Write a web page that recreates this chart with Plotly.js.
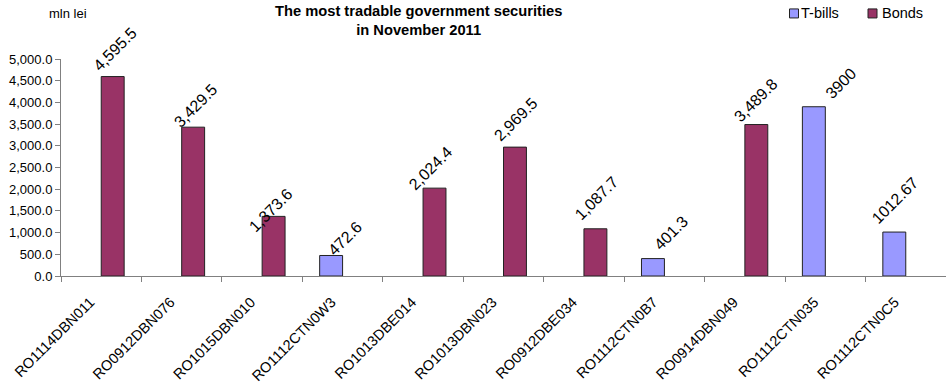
<!DOCTYPE html>
<html>
<head>
<meta charset="utf-8">
<script src="https://cdn.plot.ly/plotly-3.0.1.min.js"></script>
<style>html,body{margin:0;padding:0;background:#fff}#chart{width:946px;height:387px}</style>
</head>
<body>
<div id="chart"></div>
<script>
var categories = ["RO1114DBN011","RO0912DBN076","RO1015DBN010","RO1112CTN0W3","RO1013DBE014","RO1013DBN023","RO0912DBE034","RO1112CTN0B7","RO0914DBN049","RO1112CTN035","RO1112CTN0C5"];
var tbillValues = [null,null,null,472.6,null,null,null,401.3,null,3900,1012.67];
var tbillLabels = ["","","","472.6","","","","401.3","","3900","1012.67"];
var bondValues = [4595.5,3429.5,1373.6,null,2024.4,2969.5,1087.7,null,3489.8,null,null];
var bondLabels = ["4,595.5","3,429.5","1,373.6","","2,024.4","2,969.5","1,087.7","","3,489.8","",""];
var yTicks = [0,500,1000,1500,2000,2500,3000,3500,4000,4500,5000];

// label nudges (pixels) as placed in the original chart: [dx from bar centre, rise of label centre above bar top]
var tbillLabelNudge = [null,null,null,[14,17],null,null,null,[18.5,25.8],null,[26.8,23.4],[0.6,31.7]];
var bondLabelNudge = [[1.7,27.5],[2.7,21.5],[-3.2,6],null,[-4.2,19.6],[0.6,27.9],[0.7,30.2],null,[-1,24.3],null,null];

var font = "Liberation Sans, Arial, sans-serif";
var plotW = 885, barGap = 0.43;
var catW = plotW / categories.length;
var barW = catW * (1 - barGap) / 2;

var traces = [
  {type:"bar", name:"T-bills", x:categories, y:tbillValues,
   marker:{color:"#9999FF", line:{color:"#222",width:1}}, hoverinfo:"none", showlegend:false},
  {type:"bar", name:"Bonds", x:categories, y:bondValues,
   marker:{color:"#993366", line:{color:"#222",width:1}}, hoverinfo:"none", showlegend:false}
];

var annotations = [];
function addLabels(values, labels, nudge, side) {
  for (var i = 0; i < categories.length; i++) {
    if (values[i] === null) continue;
    var offPx = side * barW / 2 + nudge[i][0];
    annotations.push({text:labels[i], xref:"x", yref:"y", x:i + offPx / catW, y:values[i],
      xanchor:"center", yanchor:"middle", textangle:-45, showarrow:false,
      yshift:nudge[i][1], font:{family:font,size:16,color:"#000"}});
  }
}
addLabels(tbillValues, tbillLabels, tbillLabelNudge, -1);
addLabels(bondValues, bondLabels, bondLabelNudge, 1);

function px(x){ return (x-61)/885; }
function py(y){ return (275.7-y)/216.7; }

annotations.push({text:"mln lei", xref:"paper", yref:"paper", x:px(47), y:py(14),
  xanchor:"left", yanchor:"middle", showarrow:false, font:{family:font,size:13,color:"#000"}});
annotations.push({text:"<b>The most tradable government securities<br>in November 2011</b>",
  xref:"paper", yref:"paper", x:px(418), y:py(20.5), xanchor:"center", yanchor:"middle",
  showarrow:false, font:{family:font,size:14.7,color:"#000"}});
// legend
annotations.push({text:"T-bills", xref:"paper", yref:"paper", x:px(798.5), y:py(13.5),
  xanchor:"left", yanchor:"middle", showarrow:false, font:{family:font,size:14.5,color:"#000"}});
annotations.push({text:"Bonds", xref:"paper", yref:"paper", x:px(879.5), y:py(13.5),
  xanchor:"left", yanchor:"middle", showarrow:false, font:{family:font,size:14.5,color:"#000"}});
var shapes = [
  {type:"rect", xref:"paper", yref:"paper", x0:px(789.5), x1:px(798.5), y0:py(18), y1:py(9),
   fillcolor:"#9999FF", line:{color:"#222",width:1}},
  {type:"rect", xref:"paper", yref:"paper", x0:px(868), x1:px(877), y0:py(18), y1:py(9),
   fillcolor:"#993366", line:{color:"#222",width:1}}
];

var layout = {
  width:946, height:387,
  margin:{l:61, r:0, t:59, b:111, autoexpand:false},
  paper_bgcolor:"#fff", plot_bgcolor:"#fff",
  font:{family:font, size:13, color:"#000"},
  barmode:"group", bargap:barGap, bargroupgap:0,
  xaxis:{type:"category", range:[-0.5, categories.length - 0.5], tickangle:-45, showline:true, linecolor:"#808080", linewidth:1,
         ticks:"outside", tickson:"boundaries", ticklen:5, tickcolor:"#808080",
         ticklabelshift:-11, ticklabelstandoff:11,
         tickfont:{family:font,size:14.5,color:"#000"}, showgrid:false, zeroline:false, fixedrange:true},
  yaxis:{range:[0,5000], tickvals:yTicks, tickformat:",.1f", showline:true, linecolor:"#808080", linewidth:1,
         ticks:"outside", ticklen:5, tickcolor:"#808080", showgrid:false, zeroline:false,
         tickfont:{family:font,size:13,color:"#000"}, fixedrange:true},
  showlegend:false,
  annotations:annotations,
  shapes:shapes
};
Plotly.newPlot("chart", traces, layout, {displayModeBar:false, staticPlot:true});
</script>
</body>
</html>
